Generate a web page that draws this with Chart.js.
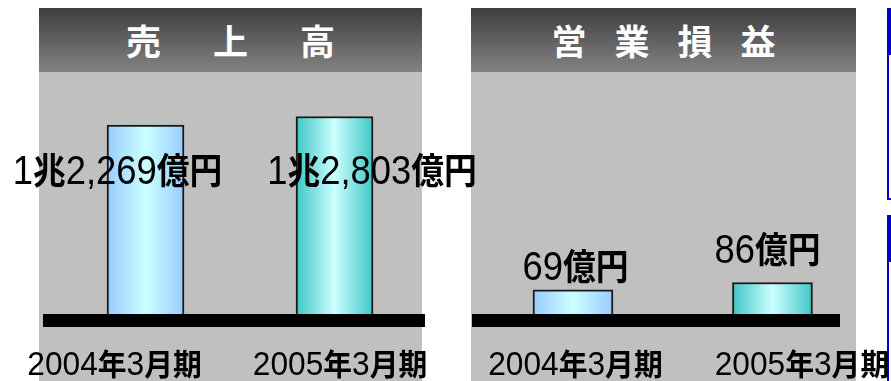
<!DOCTYPE html>
<html>
<head>
<meta charset="utf-8">
<script src="https://cdn.jsdelivr.net/npm/chart.js@4/dist/chart.umd.min.js"></script>
<style>
  body { margin: 0; width: 891px; height: 381px; overflow: hidden; position: relative; background: #fff; }
  .panel { position: absolute; top: 8px; bottom: 0; background: #c0c0c0; }
  .head {
    position: absolute; left: 0; right: 0; top: 0; height: 64px;
    background: linear-gradient(#3e3e3e, #838383);
    color: #fff; font: bold 35px "Noto Sans CJK JP", sans-serif;
    line-height: 64px; text-align: center; white-space: nowrap;
  }
  .frame { position: absolute; left: 887px; width: 20px; border: 2px solid #0000cc; background: #fff; }
  .frame .band { height: 45px; background: #0000cc; }
  canvas { position: absolute; left: 0; top: 0; }
</style>
</head>
<body>
<div class="panel" style="left:39px;width:383px;">
  <div class="head" style="letter-spacing:52px;text-indent:52px;">売上高</div>
</div>
<div class="panel" style="left:471px;width:385px;">
  <div class="head" style="letter-spacing:28px;text-indent:28px;">営業損益</div>
</div>
<div class="frame" style="top:8px;height:188px;"><div class="band"></div></div>
<div class="frame" style="top:215px;height:200px;"><div class="band"></div></div>
<canvas id="sales" width="891" height="381"></canvas>
<canvas id="profit" width="891" height="381"></canvas>
<script>
// values
const categories = ['2004年3月期', '2005年3月期'];
const salesValues = [12269, 12803];
const salesLabels = ['1兆2,269億円', '1兆2,803億円'];
const profitValues = [69, 86];
const profitLabels = ['69億円', '86億円'];
const edgeColors = ['#99ccff', '#3fc6c6'];

const valueFonts = ['normal 40px "Liberation Sans"', 'bold 36px "Noto Sans CJK JP"'];
const tickFonts = ['normal 33px "Liberation Sans"', 'bold 30px "Noto Sans CJK JP"'];

// digits in a plain face, kanji in bold, squeezed a little like the original
function drawMixed(ctx, text, x, y, fonts, sx) {
  const runs = text.match(/[\x00-\x7f]+|[^\x00-\x7f]+/g);
  const fontOf = r => (/[\x00-\x7f]/.test(r) ? fonts[0] : fonts[1]);
  const widths = runs.map(r => { ctx.font = fontOf(r); return ctx.measureText(r).width; });
  const total = widths.reduce((a, b) => a + b, 0);
  ctx.save();
  ctx.translate(x, y);
  ctx.scale(sx, 1);
  let cx = -total / 2;
  runs.forEach((r, i) => {
    ctx.font = fontOf(r);
    ctx.fillText(r, cx, 0);
    cx += widths[i];
  });
  ctx.restore();
}

// value labels and period names, drawn next to each bar
const barLabels = {
  id: 'barLabels',
  afterDatasetsDraw(chart, args, opts) {
    const ctx = chart.ctx;
    const bars = chart.getDatasetMeta(0).data;
    ctx.save();
    ctx.fillStyle = '#000';
    ctx.textAlign = 'left';
    ctx.textBaseline = 'alphabetic';
    bars.forEach((bar, i) => {
      drawMixed(ctx, opts.values[i], bar.x + opts.valueShift[i][0], bar.y + opts.valueShift[i][1], valueFonts, 0.91);
      drawMixed(ctx, categories[i], bar.x + opts.tickShift[i], chart.chartArea.bottom + 55, tickFonts, 0.96);
    });
    ctx.restore();
  }
};

function barFill(halfWidth) {
  return c => {
    const chart = c.chart;
    const edge = edgeColors[c.dataIndex];
    if (!chart.chartArea) return edge;
    const cx = chart.scales.x.getPixelForValue(c.dataIndex);
    const g = chart.ctx.createLinearGradient(cx - halfWidth, 0, cx + halfWidth, 0);
    g.addColorStop(0, edge);
    g.addColorStop(0.5, '#ccffff');
    g.addColorStop(1, edge);
    return g;
  };
}

function makeChart(id, values, labels, cfg) {
  return new Chart(document.getElementById(id), {
    type: 'bar',
    data: {
      datasets: [{
        data: values.map((v, i) => ({ x: i, y: v })),
        backgroundColor: barFill(cfg.thickness / 2),
        borderColor: '#1a1a1a',
        borderWidth: 2,
        barThickness: cfg.thickness
      }]
    },
    options: {
      responsive: false,
      animation: false,
      events: [],
      layout: { padding: cfg.padding },
      plugins: {
        legend: { display: false },
        tooltip: { enabled: false },
        barLabels: { values: labels, valueShift: cfg.valueShift, tickShift: cfg.tickShift }
      },
      scales: {
        x: {
          type: 'linear',
          offset: false,
          min: cfg.xMin,
          max: cfg.xMax,
          ticks: { display: false },
          grid: { display: false, drawTicks: false, offset: false },
          border: { display: true, color: '#000', width: 13, z: 1 }
        },
        y: { display: false, min: 0, max: cfg.yMax }
      }
    },
    plugins: [barLabels]
  });
}

makeChart('sales', salesValues, salesLabels, {
  thickness: 77,
  padding: { left: 49.5, right: 466.5, top: 80, bottom: 61 },
  xMin: -0.508, xMax: 1.476, yMax: 15100,
  valueShift: [[-28, 59], [37.5, 67]],
  tickShift: [-31, 5.5]
});

makeChart('profit', profitValues, profitLabels, {
  thickness: 80,
  padding: { left: 478, right: 51.5, top: 80, bottom: 61 },
  xMin: -0.476, xMax: 1.336, yMax: 550,
  valueShift: [[2.5, -10], [-5, -19]],
  tickShift: [2.5, 29.5]
});
</script>
</body>
</html>
